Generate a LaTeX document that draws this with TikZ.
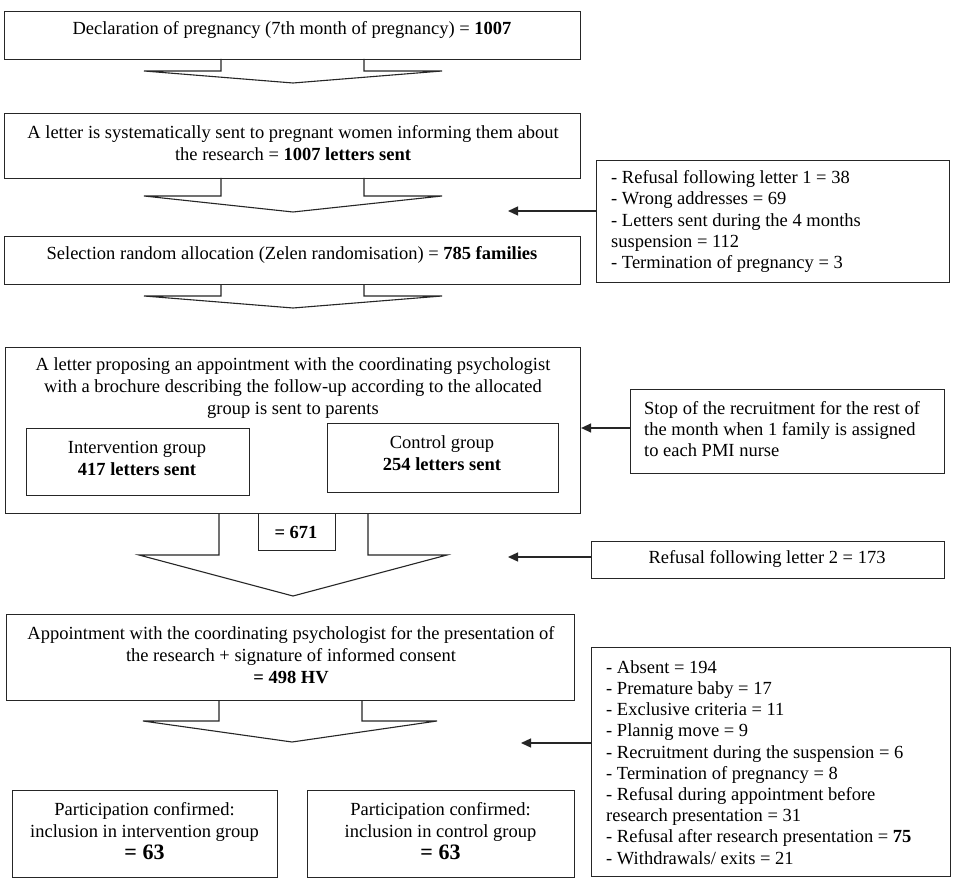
\documentclass[tikz,border=0pt]{standalone}
\usepackage{fontspec}
\setmainfont{Liberation Serif}
\usetikzlibrary{arrows.meta}
\tikzset{
  frame/.style={draw=black!85, line width=1.1pt, inner sep=0pt, anchor=north west},
  txt/.style={font=\fontsize{18.5}{22}\selectfont, align=center, inner sep=0pt},
  sidetxt/.style={font=\fontsize{18.5}{21.2}\selectfont, align=left, inner sep=0pt, anchor=west},
  fat/.style={draw=black!85, line width=1.1pt, line join=miter},
  arr/.style={draw=black!85, line width=1.3pt, -{Triangle[length=10pt,width=9pt]}}
}
\newcommand\fatarrow[8]{%
  \draw[fat] (#1,#3) -- (#1,#4) -- (#5,#4) -- (#7,#8) -- (#6,#4) -- (#2,#4) -- (#2,#3);}
\begin{document}
\begin{tikzpicture}[x=1pt,y=-1pt]
\useasboundingbox (0,0) rectangle (957,890);
\fill[white] (0,0) rectangle (957,890);

% main boxes
\node[frame, minimum width=576pt, minimum height=48pt] (b1) at (4,11) {};
\node[txt] (t1) at (292,30) {Declaration of pregnancy (7th month of pregnancy) = \textbf{1007}};

\node[frame, minimum width=576pt, minimum height=65pt] (b2) at (4,113) {};
\node[txt] (t2) at (293,143) {A letter is systematically sent to pregnant women informing them about\\the research = \textbf{1007 letters sent}};

\node[frame, minimum width=576pt, minimum height=48pt] (b3) at (4,236) {};
\node[txt] (t3) at (292,255) {Selection random allocation (Zelen randomisation) = \textbf{785 families}};

\node[frame, minimum width=575pt, minimum height=166pt] (b4) at (5,347) {};
\node[txt] (t4) at (293,388) {A letter proposing an appointment with the coordinating psychologist\\with a brochure describing the follow-up according to the allocated\\group is sent to parents};

\node[frame, minimum width=223pt, minimum height=67pt] (bi) at (26,428) {};
\node[txt] (ti) at (137,458) {Intervention group\\\textbf{417 letters sent}};

\node[frame, minimum width=231pt, minimum height=69pt] (bc) at (327,423) {};
\node[txt] (tc) at (442,453) {Control group\\\textbf{254 letters sent}};

\node[frame, minimum width=77pt, minimum height=37pt] (b671) at (258,513) {};
\node[txt] (t671) at (296,532) {\textbf{= 671}};

\node[frame, minimum width=568pt, minimum height=86pt] (b5) at (6,614) {};
\node[txt] (t5) at (291,655) {Appointment with the coordinating psychologist for the presentation of\\the research + signature of informed consent\\\textbf{= 498 HV}};

\node[frame, minimum width=265pt, minimum height=87pt] (pi) at (12,790) {};
\node[txt] (tpi) at (144.5,831) {Participation confirmed:\\inclusion in intervention group\\{\fontsize{22}{25}\selectfont\bfseries = 63}};

\node[frame, minimum width=267pt, minimum height=87pt] (pc) at (307,790) {};
\node[txt] (tpc) at (440.5,831) {Participation confirmed:\\inclusion in control group\\{\fontsize{22}{25}\selectfont\bfseries = 63}};

% fat arrows
\fatarrow{221}{364}{59}{71}{144}{442}{293}{83}
\fatarrow{221}{364}{178}{196}{144}{442}{293}{212}
\fatarrow{221}{364}{284}{296}{144}{442}{293}{308}
\fatarrow{219}{368}{513}{555}{139}{447}{293}{596}
\fatarrow{219}{362}{700}{721}{143}{437}{292}{742}

% side boxes
\node[frame, minimum width=353pt, minimum height=122pt] (r1) at (596,160) {};
\node[sidetxt] (tr1) at (611,221.5) {- Refusal following letter 1 = 38\\- Wrong addresses = 69\\- Letters sent during the 4 months\\suspension = 112\\- Termination of pregnancy = 3};

\node[frame, minimum width=314pt, minimum height=84pt] (r2) at (630,389) {};
\node[sidetxt] (tr2) at (644,429) {Stop of the recruitment for the rest of\\the month when 1 family is assigned\\to each PMI nurse};

\node[frame, minimum width=353pt, minimum height=37pt] (r3) at (591,541) {};
\node[txt] (tr3) at (767,559) {Refusal following letter 2 = 173};

\node[frame, minimum width=359pt, minimum height=229pt] (r4) at (591,647) {};
\node[sidetxt] (tr4) at (606,762.5) {- Absent = 194\\- Premature baby = 17\\- Exclusive criteria = 11\\- Plannig move = 9\\- Recruitment during the suspension = 6\\- Termination of pregnancy = 8\\- Refusal during appointment before\\research presentation = 31\\- Refusal after research presentation = \textbf{75}\\- Withdrawals/ exits = 21};

% side arrows
\coordinate (e1) at (508,211);
\coordinate (e3) at (508,557);
\coordinate (e4) at (521,743);
\coordinate (a2) at (0,428);
\draw[arr] (r1.west |- e1) -- (e1);
\draw[arr] (r2.west |- a2) -- (b4.east |- a2);
\draw[arr] (r3.west |- e3) -- (e3);
\draw[arr] (r4.west |- e4) -- (e4);
\end{tikzpicture}
\end{document}
